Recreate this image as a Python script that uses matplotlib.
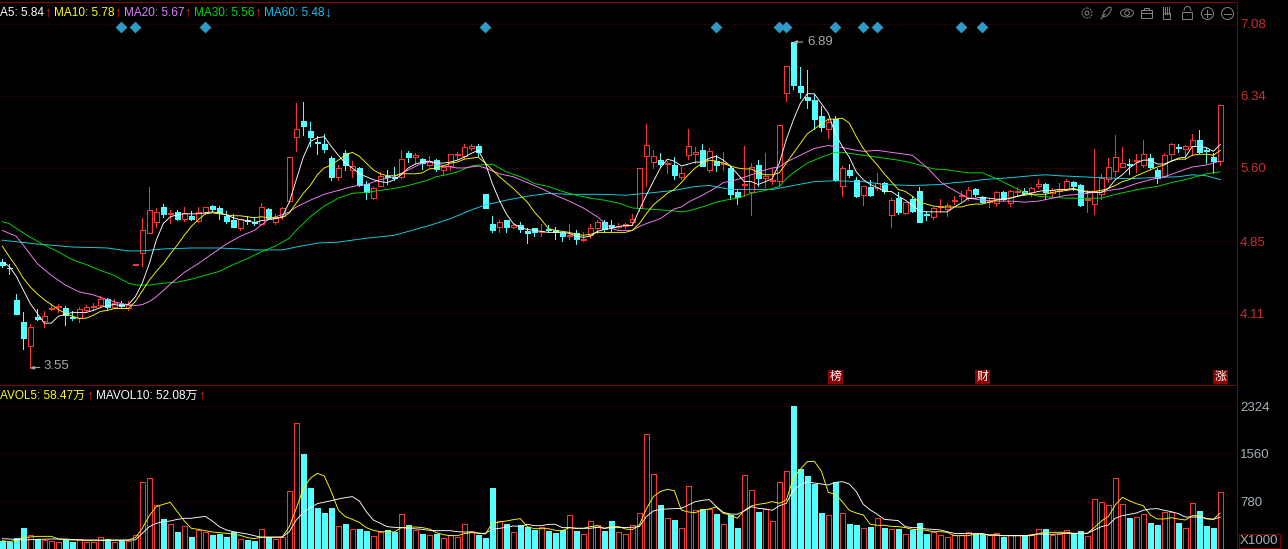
import numpy as np
import matplotlib
matplotlib.use("Agg")
import matplotlib.pyplot as plt
from matplotlib.patches import Circle, Rectangle, Ellipse, Arc

plt.rcParams['font.family'] = ['Liberation Sans', 'Noto Sans CJK SC', 'DejaVu Sans']

# candles, one row = 10 days
opens = [4.64,4.58,4.25,4.02,3.78,4.07,4.03,4.15,4.18,4.17,
         4.07,4.06,4.14,4.18,4.20,4.26,4.18,4.21,4.17,4.61,
         4.73,4.93,5.05,5.20,5.13,5.15,5.08,5.11,5.06,5.15,
         5.21,5.19,5.11,5.07,4.98,5.07,5.05,5.03,5.18,5.05,
         5.11,5.26,5.92,6.08,5.98,5.87,5.85,5.70,5.51,5.75,
         5.58,5.60,5.44,5.29,5.42,5.52,5.51,5.51,5.75,5.71,
         5.69,5.63,5.68,5.58,5.62,5.73,5.72,5.80,5.82,5.33,
         5.03,4.99,5.07,5.00,5.02,4.95,4.98,4.94,4.97,4.96,
         4.93,4.90,4.93,4.86,4.91,4.98,5.05,5.02,5.00,5.01,
         5.05,5.19,5.72,5.66,5.68,5.64,5.63,5.51,5.73,5.74,
         5.78,5.58,5.67,5.64,5.60,5.35,5.43,5.35,5.63,5.50,
         5.47,5.47,6.37,6.89,6.44,6.33,6.30,6.13,6.00,6.10,
         5.41,5.58,5.48,5.32,5.40,5.39,5.45,5.12,5.29,5.14,
         5.28,5.36,5.13,5.10,5.20,5.18,5.26,5.31,5.29,5.38,
         5.30,5.25,5.24,5.35,5.24,5.35,5.36,5.35,5.41,5.44,
         5.34,5.36,5.38,5.46,5.43,5.27,5.23,5.33,5.49,5.57,
         5.61,5.64,5.67,5.63,5.70,5.58,5.52,5.74,5.81,5.79,
         5.83,5.89,5.78,5.71,5.67]
closes = [4.61,4.57,4.10,3.86,3.97,4.05,4.08,4.16,4.19,4.09,
          4.06,4.15,4.18,4.19,4.26,4.18,4.22,4.19,4.20,4.62,
          4.96,5.17,5.15,5.13,5.14,5.08,5.14,5.08,5.15,5.20,
          5.18,5.15,5.06,5.00,5.08,5.06,5.04,5.20,5.09,5.09,
          5.19,5.71,6.00,6.03,5.92,5.86,5.79,5.51,5.60,5.63,
          5.62,5.43,5.35,5.39,5.52,5.51,5.50,5.69,5.71,5.73,
          5.65,5.67,5.59,5.61,5.74,5.74,5.81,5.82,5.76,5.19,
          4.96,5.05,4.99,5.02,4.97,4.93,4.94,4.95,4.96,4.94,
          4.90,4.91,4.87,4.87,4.98,5.05,4.97,4.99,5.01,5.03,
          5.08,5.60,5.83,5.72,5.64,5.65,5.53,5.55,5.82,5.76,
          5.62,5.77,5.63,5.65,5.33,5.30,5.44,5.61,5.50,5.52,
          5.48,6.04,6.64,6.45,6.38,6.30,6.10,6.02,6.07,5.48,
          5.60,5.53,5.31,5.41,5.32,5.45,5.36,5.27,5.15,5.25,
          5.16,5.05,5.12,5.19,5.21,5.22,5.27,5.32,5.37,5.33,
          5.25,5.26,5.35,5.28,5.36,5.36,5.34,5.39,5.44,5.35,
          5.37,5.37,5.47,5.42,5.22,5.28,5.36,5.50,5.61,5.71,
          5.65,5.63,5.68,5.74,5.61,5.50,5.73,5.85,5.80,5.83,
          5.89,5.76,5.77,5.67,6.24]
highs = [4.67,4.62,4.31,4.12,4.00,4.15,4.13,4.21,4.21,4.19,
         4.13,4.18,4.20,4.22,4.29,4.27,4.26,4.24,4.24,4.62,
         5.09,5.40,5.19,5.23,5.17,5.17,5.20,5.16,5.20,5.20,
         5.22,5.21,5.16,5.13,5.08,5.11,5.10,5.24,5.19,5.13,
         5.20,5.71,6.27,6.28,6.07,5.93,5.95,5.72,5.63,5.78,
         5.67,5.61,5.47,5.40,5.56,5.58,5.61,5.78,5.77,5.75,
         5.70,5.72,5.69,5.62,5.74,5.76,5.85,5.85,5.85,5.33,
         5.11,5.07,5.07,5.03,5.05,4.98,4.98,5.03,5.02,4.99,
         4.94,5.03,4.96,4.94,5.03,5.07,5.07,5.07,5.04,5.04,
         5.13,5.60,6.05,5.78,5.75,5.67,5.71,5.61,6.00,5.81,
         5.85,5.80,5.73,5.76,5.62,5.38,5.82,5.65,5.68,5.75,
         5.60,6.04,6.64,6.89,6.63,6.60,6.36,6.23,6.10,6.13,
         5.62,5.64,5.51,5.41,5.48,5.55,5.46,5.29,5.35,5.25,
         5.31,5.40,5.16,5.20,5.28,5.24,5.31,5.36,5.40,5.39,
         5.31,5.28,5.36,5.36,5.37,5.40,5.39,5.40,5.49,5.45,
         5.39,5.45,5.49,5.47,5.44,5.37,5.79,5.54,5.70,5.94,
         5.81,5.69,5.74,5.89,5.74,5.60,5.75,5.86,5.85,5.84,
         5.95,5.99,5.80,5.75,6.24]
lows = [4.59,4.51,4.10,3.74,3.55,4.04,3.97,4.14,4.12,3.99,
        4.04,4.02,4.12,4.14,4.19,4.15,4.17,4.17,4.14,4.61,
        4.60,4.93,5.00,5.10,5.04,5.07,5.06,5.07,5.05,5.13,
        5.16,5.08,5.04,5.00,4.96,5.03,5.02,5.03,5.08,5.03,
        5.08,5.25,5.77,5.94,5.82,5.74,5.76,5.48,5.48,5.58,
        5.51,5.42,5.28,5.28,5.41,5.44,5.48,5.50,5.66,5.64,
        5.59,5.62,5.57,5.53,5.58,5.68,5.70,5.78,5.72,5.19,
        4.94,4.94,4.94,4.98,4.94,4.83,4.90,4.90,4.94,4.87,
        4.85,4.87,4.82,4.85,4.88,4.93,4.94,4.95,4.98,4.98,
        5.04,5.16,5.41,5.60,5.62,5.55,5.49,5.49,5.69,5.65,
        5.62,5.56,5.57,5.58,5.28,5.23,5.31,5.12,5.41,5.40,
        5.44,5.42,6.29,6.41,6.32,6.21,6.00,5.98,5.91,5.47,
        5.31,5.51,5.30,5.22,5.31,5.37,5.34,4.99,5.13,5.13,
        5.15,5.05,5.07,5.08,5.15,5.11,5.23,5.26,5.27,5.31,
        5.24,5.20,5.21,5.27,5.21,5.31,5.33,5.31,5.39,5.28,
        5.30,5.32,5.37,5.37,5.21,5.15,5.13,5.28,5.46,5.52,
        5.61,5.54,5.56,5.61,5.60,5.45,5.51,5.68,5.76,5.69,
        5.73,5.75,5.65,5.55,5.63]

ma5 = [4.64,4.59,4.49,4.35,4.21,4.11,4.01,4.01,4.08,4.10,
       4.12,4.12,4.12,4.14,4.17,4.19,4.20,4.19,4.20,4.28,
       4.42,4.62,4.86,5.03,5.10,5.12,5.13,5.13,5.13,5.14,
       5.15,5.14,5.12,5.09,5.07,5.06,5.04,5.06,5.07,5.08,
       5.10,5.25,5.48,5.71,5.87,5.91,5.92,5.82,5.73,5.65,
       5.60,5.54,5.51,5.48,5.46,5.45,5.48,5.53,5.60,5.64,
       5.66,5.67,5.65,5.65,5.66,5.68,5.71,5.75,5.78,5.65,
       5.44,5.27,5.13,5.03,4.99,4.97,4.96,4.95,4.94,4.94,
       4.94,4.93,4.90,4.89,4.90,4.95,4.97,4.98,5.00,5.01,
       5.01,5.17,5.32,5.46,5.60,5.69,5.67,5.62,5.64,5.66,
       5.66,5.70,5.72,5.68,5.62,5.54,5.46,5.46,5.43,5.46,
       5.49,5.65,5.89,6.09,6.26,6.36,6.36,6.26,6.16,5.95,
       5.82,5.71,5.56,5.48,5.43,5.40,5.36,5.36,5.31,5.27,
       5.22,5.16,5.15,5.15,5.15,5.15,5.20,5.24,5.29,5.29,
       5.30,5.29,5.28,5.28,5.29,5.31,5.33,5.34,5.36,5.37,
       5.37,5.38,5.38,5.39,5.37,5.35,5.35,5.35,5.39,5.48,
       5.53,5.60,5.65,5.68,5.68,5.64,5.64,5.67,5.70,5.71,
       5.82,5.82,5.81,5.77,5.84]
ma10 = [4.80,4.69,4.59,4.47,4.38,4.31,4.25,4.20,4.15,4.11,
        4.08,4.06,4.06,4.09,4.13,4.14,4.16,4.16,4.16,4.23,
        4.34,4.45,4.54,4.62,4.72,4.81,4.91,5.00,5.07,5.13,
        5.14,5.13,5.12,5.11,5.11,5.10,5.09,5.10,5.09,5.09,
        5.09,5.14,5.24,5.34,5.42,5.53,5.60,5.63,5.68,5.73,
        5.76,5.72,5.65,5.58,5.54,5.52,5.52,5.54,5.54,5.54,
        5.55,5.59,5.60,5.62,5.65,5.66,5.69,5.70,5.71,5.65,
        5.58,5.51,5.45,5.39,5.32,5.25,5.15,5.07,4.98,4.96,
        4.95,4.94,4.92,4.91,4.92,4.94,4.94,4.94,4.94,4.94,
        4.96,5.03,5.13,5.22,5.28,5.34,5.38,5.45,5.53,5.60,
        5.65,5.68,5.67,5.65,5.62,5.60,5.59,5.59,5.55,5.53,
        5.53,5.55,5.65,5.75,5.85,5.95,6.00,6.05,6.10,6.10,
        6.11,6.06,5.92,5.80,5.71,5.63,5.54,5.46,5.38,5.36,
        5.31,5.25,5.23,5.21,5.20,5.20,5.20,5.20,5.22,5.23,
        5.23,5.25,5.27,5.28,5.29,5.31,5.32,5.33,5.33,5.33,
        5.35,5.36,5.37,5.38,5.37,5.36,5.36,5.37,5.39,5.42,
        5.46,5.48,5.52,5.55,5.58,5.61,5.63,5.67,5.69,5.69,
        5.73,5.74,5.74,5.73,5.78]

# the slow averages are read at the days where they bend
ma20_days = [0,2,3,5,7,9,11,13,15,17,19,20,21,22,24,26,28,30,32,34,36,38,39,40,41,42,44,46,48,50,52,54,56,58,60,61,
             62,63,64,65,66,67,68,69,71,73,75,77,79,81,83,85,86,87,88,90,91,92,94,96,97,98,100,102,103,105,107,109,110,111,112,114,116,118,120,122,
             123,125,127,129,130,131,132,133,134,135,136,137,138,140,142,144,146,148,150,152,154,156,157,158,160,162,164,166,168,170,172,173,174]
ma20 = [4.96,4.90,4.81,4.62,4.50,4.40,4.33,4.30,4.25,4.21,4.19,4.20,4.23,4.28,4.41,4.53,4.62,4.72,4.82,4.90,4.96,5.07,5.10,5.12,5.15,5.20,5.27,5.33,5.37,5.41,5.43,5.48,5.51,5.58,5.65,5.66,
        5.65,5.62,5.61,5.60,5.60,5.61,5.62,5.60,5.54,5.51,5.45,5.39,5.32,5.26,5.19,5.10,5.04,4.98,4.96,4.96,5.00,5.03,5.08,5.18,5.20,5.25,5.32,5.40,5.45,5.48,5.53,5.58,5.60,5.61,5.66,5.73,5.80,5.83,5.81,5.78,
        5.77,5.78,5.76,5.74,5.73,5.67,5.61,5.54,5.46,5.41,5.37,5.33,5.29,5.27,5.26,5.26,5.25,5.26,5.29,5.32,5.33,5.35,5.35,5.37,5.39,5.44,5.48,5.51,5.56,5.61,5.63,5.65,5.67]
ma30_days = [0,1,2,4,6,8,10,12,14,16,18,19,21,23,25,27,29,31,33,35,37,39,41,42,44,46,48,50,52,54,56,58,60,61,
             62,64,65,67,68,70,72,74,75,76,78,80,82,84,86,88,90,92,94,96,97,98,100,102,104,105,107,109,111,112,113,115,117,119,120,122,
             124,126,128,130,132,133,135,136,138,140,142,144,146,148,150,152,154,156,157,159,161,163,165,167,169,171,172,173,174]
ma30 = [5.05,5.03,4.98,4.89,4.81,4.74,4.66,4.61,4.55,4.50,4.42,4.40,4.40,4.42,4.43,4.46,4.50,4.54,4.61,4.67,4.74,4.80,4.88,4.96,5.10,5.21,5.29,5.34,5.35,5.37,5.39,5.42,5.46,5.48,
        5.51,5.54,5.56,5.62,5.63,5.64,5.56,5.51,5.48,5.44,5.41,5.36,5.32,5.29,5.27,5.24,5.19,5.18,5.17,5.16,5.15,5.16,5.20,5.25,5.28,5.29,5.34,5.37,5.41,5.49,5.55,5.65,5.71,5.76,5.76,5.74,
        5.72,5.70,5.68,5.65,5.61,5.59,5.58,5.57,5.55,5.55,5.49,5.42,5.35,5.31,5.30,5.29,5.29,5.29,5.29,5.33,5.36,5.39,5.41,5.45,5.48,5.52,5.54,5.55,5.56]
ma60_days = [0,5,10,15,18,20,23,27,31,34,36,40,42,45,48,52,56,60,61,64,67,69,72,75,78,81,86,89,92,96,99,101,104,108,110,113,116,119,122,123,
             126,130,134,136,138,140,142,144,147,149,151,154,157,161,164,168,170,172,173,174]
ma60 = [4.86,4.82,4.79,4.78,4.75,4.75,4.77,4.78,4.78,4.77,4.76,4.76,4.79,4.83,4.84,4.88,4.91,4.99,5.01,5.08,5.17,5.22,5.27,5.31,5.34,5.33,5.33,5.32,5.34,5.37,5.41,5.42,5.38,5.38,5.38,5.42,5.46,5.47,5.46,5.46,
        5.43,5.42,5.43,5.45,5.46,5.48,5.49,5.50,5.52,5.53,5.52,5.51,5.50,5.49,5.50,5.51,5.53,5.52,5.50,5.48]

volume = [130,119,174,342,223,168,147,130,109,147,
          119,168,109,119,190,157,109,136,136,223,
          1086,1151,711,489,402,277,369,195,315,277,
          228,250,195,272,157,147,130,320,190,168,
          201,939,2047,1548,994,668,586,668,369,407,
          320,326,293,206,282,304,277,565,391,304,
          244,228,244,174,228,201,402,288,228,179,
          994,451,407,272,391,358,310,353,293,261,
          304,548,293,239,451,386,293,456,272,239,
          386,581,1868,1216,717,500,472,337,1021,630,
          652,652,570,402,554,342,1200,956,603,652,
          451,1086,1265,2324,1303,1189,1059,586,548,1086,
          581,407,391,337,358,500,342,320,326,239,
          304,424,244,277,223,190,228,228,272,244,
          239,228,255,195,223,223,212,239,320,326,
          228,239,304,255,293,206,809,760,711,1151,
          728,505,516,565,424,391,597,603,424,337,
          744,619,375,342,923]
mavol5 = [136,119,141,185,195,206,206,206,163,152,
          147,147,136,136,141,147,147,147,147,185,
          337,543,690,728,760,608,456,337,320,299,
          277,266,255,244,223,185,168,195,190,190,
          195,364,662,988,1151,1233,1189,934,635,527,
          483,434,348,304,282,282,277,348,353,358,
          348,326,266,233,217,217,250,266,261,244,
          418,440,456,478,494,364,331,331,331,304,
          299,348,337,337,364,380,337,364,369,326,
          315,391,652,853,934,972,950,635,603,592,
          635,652,684,581,554,500,630,700,728,744,
          771,744,798,1151,1298,1423,1428,1271,923,891,
          771,630,586,554,402,386,386,369,364,348,
          320,315,304,282,282,272,217,217,217,244,
          244,228,233,217,217,217,217,228,250,272,
          272,272,272,255,255,255,348,456,527,717,
          842,787,738,706,554,489,489,510,489,472,
          543,543,489,483,585]
mavol10_days = [0,1,3,5,7,9,11,13,15,17,19,20,21,22,23,24,25,26,27,28,29,30,31,32,33,35,37,38,40,41,42,43,44,45,47,48,49,50,51,52,53,54,55,56,57,58,60,61,
                62,64,65,66,67,68,69,70,71,72,73,74,75,76,77,78,79,80,81,82,84,85,86,87,88,90,91,92,93,94,95,96,97,98,99,100,101,102,103,104,105,106,107,108,109,110,111,112,113,114,115,116,117,118,119,120,121,122,
                123,124,125,126,127,128,129,130,131,132,133,134,135,136,138,140,141,143,145,147,148,150,152,155,156,157,158,159,160,161,162,163,164,165,166,167,168,169,170,171,172,173,174]
mavol10 = [168,163,147,157,163,163,147,147,141,141,147,255,364,418,445,456,483,500,500,516,532,456,364,310,282,244,190,195,195,282,472,597,673,738,787,814,836,853,782,608,472,418,364,353,348,337,320,304,
           299,299,282,277,277,255,255,320,337,353,375,369,402,380,380,402,402,348,348,337,337,353,337,348,348,353,364,527,619,646,652,657,662,717,771,793,804,690,597,570,565,619,690,662,652,630,706,744,961,1043,1097,1075,1059,1043,1086,1097,1059,934,
           728,635,565,483,472,462,364,348,348,326,320,310,282,255,250,250,228,217,217,217,244,239,255,255,310,364,391,500,543,565,586,630,652,657,630,608,576,521,521,521,500,483,521]

price_ticks = [7.08, 6.34, 5.60, 4.85, 4.11]
volume_ticks = [2324, 1560, 780]
marker_days = [17, 19, 29, 69, 102, 111, 112, 119, 123, 125, 137, 140]
event_days = [119, 140, 174]
event_labels = ['榜', '财', '涨']

RED = '#ff3232'
CYAN = '#54ffff'
DARK = '#800000'
W, H = 1288, 549
PLOT_W = 1237.3
SPLIT = 385.0
PX = 0.72  # one pixel in points at dpi 100
LINE = 0.65

o = np.array(opens)
c = np.array(closes)
days = np.arange(len(o))
up = c >= o

fig = plt.figure(figsize=(W / 100, H / 100), dpi=100, facecolor='black')
ax = fig.add_axes([0, (H - SPLIT) / H, PLOT_W / W, (SPLIT - 2) / H], facecolor='black')
axv = fig.add_axes([0, 0, PLOT_W / W, (H - SPLIT) / H], facecolor='black')

xlim = (-2.3 / 7, (PLOT_W - 2.3) / 7)
for a in (ax, axv):
    a.set_xlim(xlim)
    a.set_xticks([])
    a.yaxis.tick_right()
    a.tick_params(axis='y', length=0, pad=2, labelsize=9.5)
    a.grid(axis='y', color='#7a0000', linestyle=(0, (1, 3)), linewidth=PX)
    a.set_axisbelow(True)
    for side in a.spines:
        a.spines[side].set_color(DARK)
        a.spines[side].set_linewidth(PX)
    a.spines['left'].set_visible(False)

ax.set_ylim(7.08 - (SPLIT - 23.5) / 97.6, 7.08 + 21.5 / 97.6)
ax.set_yticks(price_ticks, [f'{t:.2f}' for t in price_ticks], color='#c8302c')
axv.set_ylim(0, (H - SPLIT) / 0.0614)
axv.set_yticks(volume_ticks, [str(t) for t in volume_ticks], color='#a8b0b8')

# candles
bar_w = 4.8 / 7
edge = [RED if u else CYAN for u in up]
face = ['black' if u else CYAN for u in up]
ax.vlines(days, lows, highs, colors=edge, linewidth=PX, antialiased=False, zorder=2)
ax.bar(days, np.abs(c - o), bottom=np.minimum(o, c), width=bar_w, color=face, edgecolor=edge,
       linewidth=PX, antialiased=False, zorder=3)

ax.plot(ma60_days, ma60, color='#10d8f0', lw=LINE, zorder=4)
ax.plot(ma30_days, ma30, color='#00e000', lw=LINE, zorder=4)
ax.plot(ma20_days, ma20, color='#ff80ff', lw=LINE, zorder=4)
ax.plot(days, ma10, color='#ffff00', lw=LINE, zorder=4)
ax.plot(days, ma5, color='white', lw=LINE, zorder=4)

ax.scatter(marker_days, [7.04] * len(marker_days), marker='D', s=36, color='#2e9bc6', linewidths=0, zorder=5)

# high and low notes
arrow = dict(arrowstyle='-|>', color='#a8a8a8', lw=0.8, mutation_scale=5, shrinkA=1, shrinkB=0)
ax.annotate('3.55', xy=(4, 3.55), xytext=(5.95, 3.57), color='#a8a8a8', fontsize=9.5, va='center', arrowprops=arrow)
ax.annotate('6.89', xy=(113, 6.89), xytext=(114.95, 6.89), color='#a8a8a8', fontsize=9.5, va='center', arrowprops=arrow)

for day, label in zip(event_days, event_labels):
    ax.text(day, 0.021, label, transform=ax.get_xaxis_transform(), color='white', fontsize=8.5,
            ha='center', va='center', bbox=dict(boxstyle='square,pad=0.12', facecolor='#8b0000', edgecolor='none'))

# volume
axv.bar(days, volume, width=bar_w, color=face, edgecolor=edge, linewidth=PX, antialiased=False, zorder=3)
axv.plot(days, mavol5, color='#ffff00', lw=LINE, zorder=4)
axv.plot(mavol10_days, mavol10, color='white', lw=LINE, zorder=4)

# everything placed by pixel goes on an overlay
ov = fig.add_axes([0, 0, 1, 1], facecolor='none')
ov.set_xlim(0, W)
ov.set_ylim(H, 0)
ov.axis('off')

ma_legend = [('A5: 5.84', 0, 48, 'white', '↑'), ('MA10: 5.78', 54, 118, '#ffff00', '↑'),
             ('MA20: 5.67', 124, 188, '#e080ff', '↑'), ('MA30: 5.56', 194, 258, '#00d800', '↑'),
             ('MA60: 5.48', 264, 328, '#10c0f0', '↓')]
for label, x, arrow_x, col, sign in ma_legend:
    ov.text(x, 12.5, label, color=col, fontsize=8.5, va='center')
    ov.text(arrow_x, 12.5, sign, color='#d02020' if sign == '↑' else '#10c0f0', fontsize=10, va='center', ha='center')

ov.text(0, 396, 'AVOL5: 58.47万', color='#ffff00', fontsize=8.5, va='center')
ov.text(89.5, 396, '↑', color='#d02020', fontsize=10, va='center', ha='center')
ov.text(96, 396, 'MAVOL10: 52.08万', color='white', fontsize=8.5, va='center')
ov.text(202, 396, '↑', color='#d02020', fontsize=10, va='center', ha='center')

ov.text(1240, 541, 'X1000', color='#a8b0b8', fontsize=9.5, va='center',
        bbox=dict(boxstyle='square,pad=0.1', facecolor='black', edgecolor=DARK, linewidth=PX))

# toolbar icons
GREY = '#808080'
ic = dict(edgecolor=GREY, facecolor='none', linewidth=PX)
ov.add_patch(Circle((1087, 13), 5, linestyle=(0, (2, 1)), **ic))
ov.add_patch(Circle((1087, 13), 2, **ic))
ov.add_patch(Ellipse((1107, 12), 5, 12, angle=40, **ic))
ov.plot([1101, 1105], [19, 14], color=GREY, lw=PX)
ov.add_patch(Ellipse((1127, 13), 13, 8, **ic))
ov.add_patch(Circle((1127, 13), 2.4, **ic))
ov.add_patch(Rectangle((1141.5, 10), 11, 8, **ic))
ov.add_patch(Rectangle((1144.5, 7.5), 5, 2.5, **ic))
ov.plot([1141.5, 1152.5], [13, 13], color=GREY, lw=PX)
for fx in (1163.5, 1165.5, 1167.5, 1169.5):
    ov.plot([fx, fx], [7, 14], color=GREY, lw=PX)
ov.add_patch(Rectangle((1163, 13), 7.5, 5.5, **ic))
ov.add_patch(Rectangle((1182.5, 12), 10, 6.5, **ic))
ov.add_patch(Arc((1187.5, 11), 7, 9, theta1=180, theta2=360, edgecolor=GREY, linewidth=PX))
ov.add_patch(Circle((1207.5, 13.5), 6, **ic))
ov.plot([1204, 1211], [13.5, 13.5], color=GREY, lw=PX)
ov.plot([1207.5, 1207.5], [10, 17], color=GREY, lw=PX)
ov.add_patch(Circle((1227.5, 13.5), 6, **ic))
ov.plot([1224, 1231], [13.5, 13.5], color=GREY, lw=PX)

fig.savefig('out.png', dpi=100, facecolor='black')
